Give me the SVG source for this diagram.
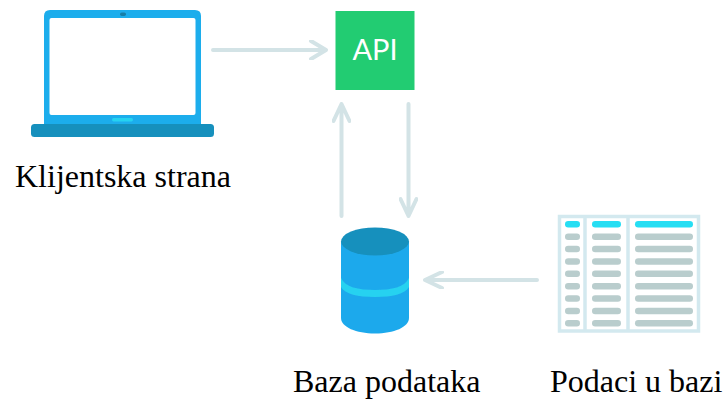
<svg xmlns="http://www.w3.org/2000/svg" width="728" height="405" viewBox="0 0 728 405">
<defs>
<style>
.conn{fill:none;stroke:#d3e3e6;stroke-width:4;stroke-linecap:round;stroke-linejoin:round}
.lbl{font-family:"Liberation Serif","Times New Roman",serif;font-size:32px;fill:#000}
.g{fill:#b9cdcd}
.c{fill:#27def3}
</style>
<filter id="b" x="-5%" y="-5%" width="110%" height="110%"><feGaussianBlur stdDeviation="0.6"/></filter>
<g id="rows">
<rect x="565" y="0" width="15" height="6.500" rx="3.200"/>
<rect x="592" y="0" width="29" height="6.500" rx="3.200"/>
<rect x="635" y="0" width="58" height="6.500" rx="3.200"/>
</g>
</defs>
<rect width="728" height="405" fill="#fff"/>
<g id="connectors">
<path class="conn" d="M213 50H325M311 41L326 50L311 59" filter="url(#b)"/>
<path class="conn" d="M341.500 216V104M333.500 121L341.500 104L349.500 121" filter="url(#b)"/>
<path class="conn" d="M408.500 104V216M400.500 199L408.500 216L416.500 199" filter="url(#b)"/>
<path class="conn" d="M537 280H425M442 272L425 280L442 288" filter="url(#b)"/>
</g>
<g id="client">
<g filter="url(#b)">
<path d="M44 130V16Q44 10 50 10H195Q201 10 201 16V130Z" fill="#1fadec"/>
<rect x="49.500" y="18" width="146" height="97" rx="2" fill="#fff"/>
<rect x="120" y="12.500" width="6" height="3.500" rx="1.700" fill="#167fa8"/>
<rect x="112" y="118" width="21" height="3.500" rx="1.700" fill="#27d2f0"/>
<rect x="31" y="124" width="183" height="13" rx="3.500" fill="#1790bd"/>
</g>
<text class="lbl" x="15" y="187">Klijentska strana</text>
</g>
<g id="api">
<rect x="335.500" y="11" width="79" height="79" fill="#24cc72" filter="url(#b)"/>
<text x="375" y="59.500" text-anchor="middle" font-family="Lato,'Open Sans',sans-serif" font-size="29" fill="#fff">API</text>
</g>
<g id="database">
<g filter="url(#b)">
<path d="M341 242V318C341 327 356 333.500 375 333.500C394 333.500 409 327 409 318V242Z" fill="#1fa9ec"/>
<path d="M341 278C345 287 358 290 375 290C392 290 405 287 409 278V287C405 294 392 297 375 297C358 297 345 294 341 287Z" fill="#27d2f0"/>
<ellipse cx="375" cy="241.500" rx="34" ry="14" fill="#1790bd"/>
</g>
<text class="lbl" x="293" y="392">Baza podataka</text>
</g>
<g id="table">
<g filter="url(#b)">
<rect x="559.500" y="216.500" width="139" height="114.500" fill="#fff" stroke="#d3e9ef" stroke-width="3.500"/>
<path d="M585 216V331M628 216V331" fill="none" stroke="#d3e9ef" stroke-width="3.500"/>
<use href="#rows" y="221" class="c"/>
<use href="#rows" y="233.400" class="g"/>
<use href="#rows" y="245.800" class="g"/>
<use href="#rows" y="258.200" class="g"/>
<use href="#rows" y="270.500" class="g"/>
<use href="#rows" y="282.900" class="g"/>
<use href="#rows" y="295.300" class="g"/>
<use href="#rows" y="307.700" class="g"/>
<use href="#rows" y="320" class="g"/>
</g>
<text class="lbl" x="550" y="392">Podaci u bazi</text>
</g>
</svg>
